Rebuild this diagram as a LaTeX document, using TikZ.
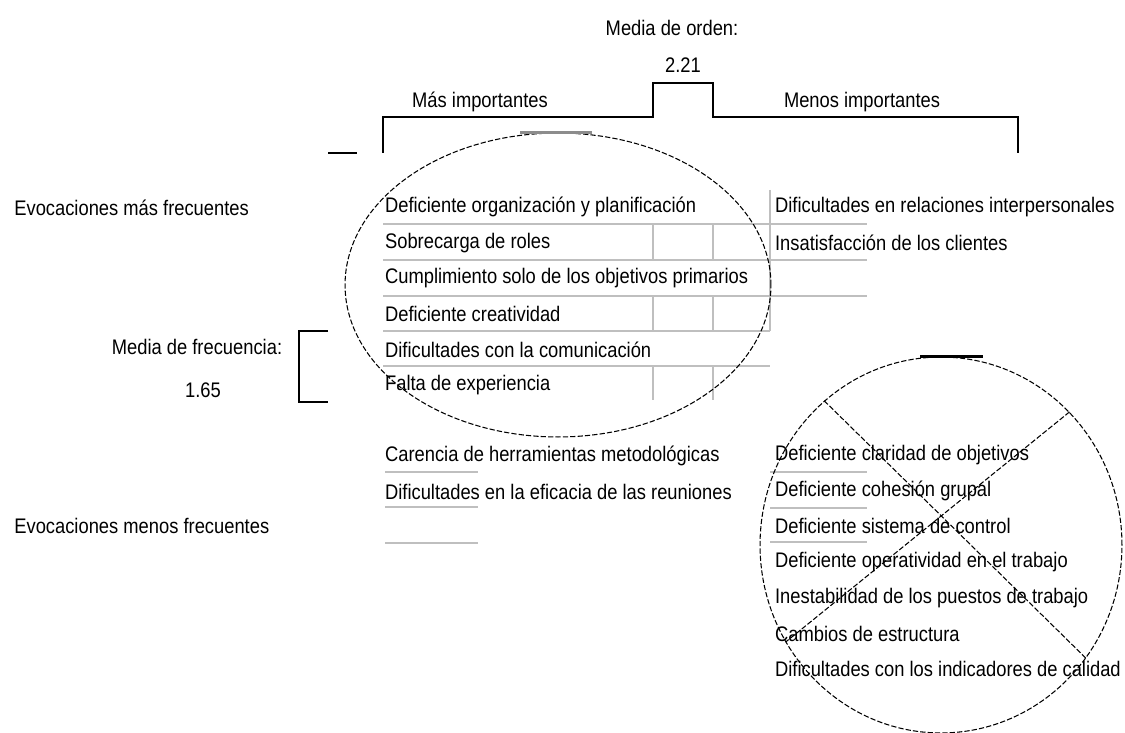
\documentclass[tikz,border=0pt]{standalone}
\usepackage{fontspec}
\setmainfont[FakeStretch=0.87]{Liberation Sans}
\usetikzlibrary{positioning, shapes.geometric}

\begin{document}
\begin{tikzpicture}[
    x=0.02cm, y=-0.02cm,
    font=\fontsize{12}{14}\selectfont,
    item/.style={anchor=west, inner xsep=1pt, inner ysep=0pt,
                 minimum height=0.7cm},
    heading/.style={align=center, inner sep=0pt},
    bracket/.style={line width=1.1pt},
    rule/.style={draw=black!25, line width=0.8pt},
    ring/.style={draw, ellipse, inner sep=0pt,
                 dash pattern=on 3pt off 1.2pt, line width=0.6pt},
]
    \useasboundingbox (0,0) rectangle (1125,733);

    % table rules
    \draw[rule] (383,224) -- (867,224);
    \draw[rule, line width=1.6pt] (383,260) -- (867,260);
    \draw[rule] (383,296) -- (867,296);
    \draw[rule] (383,331) -- (770,331);
    \draw[rule] (383,366) -- (770,366);
    \draw[rule] (653,224) -- (653,260) (653,296) -- (653,331) (653,366) -- (653,400);
    \draw[rule] (713,224) -- (713,260) (713,296) -- (713,331) (713,366) -- (713,400);
    \draw[rule] (770,190) -- (770,331);
    \draw[rule] (385,472) -- (478,472) (385,507) -- (478,507) (385,543) -- (478,543);
    \draw[rule] (770,472) -- (867,472) (770,508) -- (867,508) (770,542) -- (867,542);

    % order axis
    \node[heading] (mediaorden) at (672,28) {Media de orden:};
    \node[heading] (valorden) at (683,65) {2.21};
    \node[heading] (masimp) at (480,102) {Más importantes};
    \node[heading] (menosimp) at (862,102) {Menos importantes};
    \draw[bracket] (383,153) -- (383,117) -- (653,117) -- (653,83)
        -- (713,83) -- (713,117) -- (1018,117) -- (1018,153);
    \draw[bracket] (328,153) -- (357,153);

    % frequency axis
    \node[item, inner xsep=0pt] (evmas) at (14,208) {Evocaciones más frecuentes};
    \node[item, inner xsep=0pt] (evmenos) at (14,526) {Evocaciones menos frecuentes};
    \node[heading] (mediafrec) at (197,347) {Media de frecuencia:};
    \node[heading] (valfrec) at (203,390) {1.65};
    \draw[bracket] (328,331) -- (299,331) -- (299,402) -- (328,402);

    % central core
    \node[item] (a1) at (383,207) {Deficiente organización y planificación};
    \node[item, below=0pt of a1.south west, anchor=north west] (a2) {Sobrecarga de roles};
    \node[item, below=0pt of a2.south west, anchor=north west] (a3) {Cumplimiento solo de los objetivos primarios};
    \node[item, below=0pt of a3.south west, anchor=north west] (a4) {Deficiente creatividad};
    \node[item, below=0pt of a4.south west, anchor=north west] (a5) {Dificultades con la comunicación};
    \node[item, below=0pt of a5.south west, anchor=north west] (a6) {Falta de experiencia};

    % first periphery
    \node[item] (b1) at (773,207) {Dificultades en relaciones interpersonales};
    \node[item, below=0pt of b1.south west, anchor=north west] (b2) {Insatisfacción de los clientes};

    % contrast zone
    \node[item] (c1) at (383,456) {Carencia de herramientas metodológicas};
    \node[item, below=0pt of c1.south west, anchor=north west] (c2) {Dificultades en la eficacia de las reuniones};

    % second periphery
    \node[item] (d1) at (773,455) {Deficiente claridad de objetivos};
    \node[item, below=0pt of d1.south west, anchor=north west] (d2) {Deficiente cohesión grupal};
    \node[item, below=0pt of d2.south west, anchor=north west] (d3) {Deficiente sistema de control};
    \node[item, below=0pt of d3.south west, anchor=north west] (d4) {Deficiente operatividad en el trabajo};
    \node[item, below=0pt of d4.south west, anchor=north west] (d5) {Inestabilidad de los puestos de trabajo};
    \node[item, below=0pt of d5.south west, anchor=north west] (d6) {Cambios de estructura};
    \node[item, below=0pt of d6.south west, anchor=north west] (d7) {Dificultades con los indicadores de calidad};

    % rings
    \node[ring, minimum width=8.52cm, minimum height=6.08cm] (nucleo) at (558,285) {};
    \node[ring, minimum width=7.24cm, minimum height=7.52cm] (periferia) at (941,545) {};
    \draw[black!45, line width=1.6pt] ([xshift=-0.76cm]nucleo.north) -- ([xshift=0.68cm]nucleo.north);
    \draw[line width=1.6pt] ([xshift=-0.42cm]periferia.north) -- ([xshift=0.84cm]periferia.north);
    \draw[dash pattern=on 3pt off 1.2pt, line width=0.6pt] (periferia.129) -- (periferia.-38.5);
    \draw[dash pattern=on 3pt off 1.2pt, line width=0.6pt] (periferia.46.7) -- (periferia.212);
\end{tikzpicture}
\end{document}
